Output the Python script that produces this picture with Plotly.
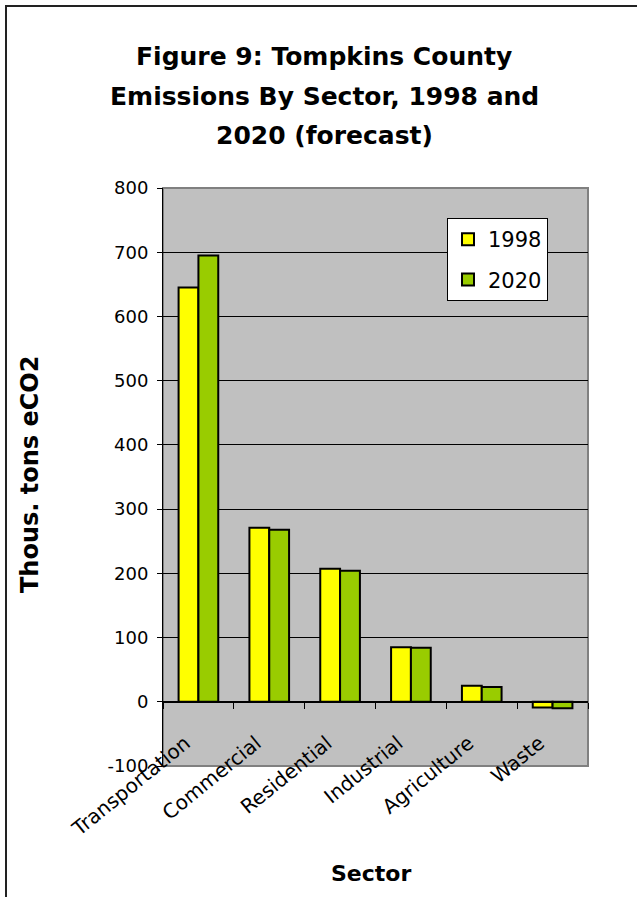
import plotly.graph_objects as go

# Emissions by sector, thousand tons eCO2
sectors = ["Transportation", "Commercial", "Residential", "Industrial", "Agriculture", "Waste"]
emissions_1998 = [645, 271, 207, 85, 25, -9]
emissions_2020 = [695, 268, 204, 84, 23, -10]

y_tick_vals = [-100, 0, 100, 200, 300, 400, 500, 600, 700, 800]
y_tick_text = ["-100", "0", "100", "200", "300", "400", "500", "600", "700", "800"]

title_lines = ["Figure 9: Tompkins County", "Emissions By Sector, 1998 and", "2020 (forecast)"]

W, H = 637, 897
L, R, T, B = 163, 49, 188, 131
plot_h = H - T - B
plot_w = W - L - R


def py(pix):
    """Pixel row from the top of the page -> paper y."""
    return (H - B - pix) / plot_h


def px(pix):
    """Pixel column from the left of the page -> paper x."""
    return (pix - L) / plot_w


SANS = "DejaVu Sans, Arial, sans-serif"

fig = go.Figure()
fig.add_trace(go.Bar(
    x=sectors, y=emissions_1998, name="1998", legendgroup="a",
    marker=dict(color="#FFFF00", line=dict(color="black", width=2)),
))
fig.add_trace(go.Bar(
    x=sectors, y=emissions_2020, name="2020", legendgroup="b",
    marker=dict(color="#99CC00", line=dict(color="black", width=2)),
))

y_min, y_max = y_tick_vals[0], y_tick_vals[-1]

fig.update_layout(
    width=W, height=H,
    margin=dict(l=L, r=R, t=T, b=B, pad=0),
    paper_bgcolor="white",
    plot_bgcolor="#C0C0C0",
    barmode="group",
    bargap=0.44,
    bargroupgap=0,
    showlegend=True,
    legend=dict(
        x=px(447), y=py(218), xanchor="left", yanchor="top",
        bgcolor="white", bordercolor="black", borderwidth=1,
        font=dict(family=SANS, size=21, color="black"),
        tracegroupgap=10, traceorder="grouped",
    ),
    xaxis=dict(
        type="category",
        anchor="free",
        position=(0 - y_min) / (y_max - y_min),
        showline=True, linecolor="black", linewidth=1,
        ticks="outside", tickson="boundaries", ticklen=6, tickcolor="black",
        tickangle=-39,
        ticklabelstandoff=21,
        ticklabelshift=-13,
        tickfont=dict(family=SANS, size=20, color="black"),
        showgrid=False,
        title=None,
    ),
    yaxis=dict(
        range=[y_min, y_max],
        tickmode="array", tickvals=y_tick_vals, ticktext=y_tick_text,
        showline=True, linecolor="black", linewidth=1,
        ticks="outside", ticklen=5, tickcolor="black",
        ticklabelstandoff=5,
        tickfont=dict(family=SANS, size=18, color="black"),
        showgrid=True, gridcolor="black", gridwidth=1,
        zeroline=False,
    ),
)

# plot-area frame
fig.add_shape(type="rect", xref="x domain", yref="y domain",
              x0=0, x1=1, y0=0, y1=1, layer="below",
              line=dict(color="#808080", width=2))

# outer chart frame
fig.add_shape(type="rect", xref="paper", yref="paper",
              x0=px(6), x1=px(700), y0=py(960), y1=py(6),
              line=dict(color="#222222", width=2), fillcolor="rgba(0,0,0,0)")

# chart title
for text, row in zip(title_lines, [57, 96, 135]):
    fig.add_annotation(text=f"<b>{text}</b>", xref="paper", yref="paper",
                       x=px(324), y=py(row), xanchor="center", yanchor="middle",
                       showarrow=False, font=dict(family=SANS, size=25, color="black"))

# axis titles
fig.add_annotation(text="<b>Thous. tons eCO2</b>", xref="paper", yref="paper",
                   x=px(30), y=py(475), xanchor="center", yanchor="middle",
                   textangle=-90, showarrow=False,
                   font=dict(family=SANS, size=24, color="black"))
fig.add_annotation(text="<b>Sector</b>", xref="paper", yref="paper",
                   x=px(371), y=py(873), xanchor="center", yanchor="middle",
                   showarrow=False, font=dict(family=SANS, size=22, color="black"))

fig.write_html("out.html")
